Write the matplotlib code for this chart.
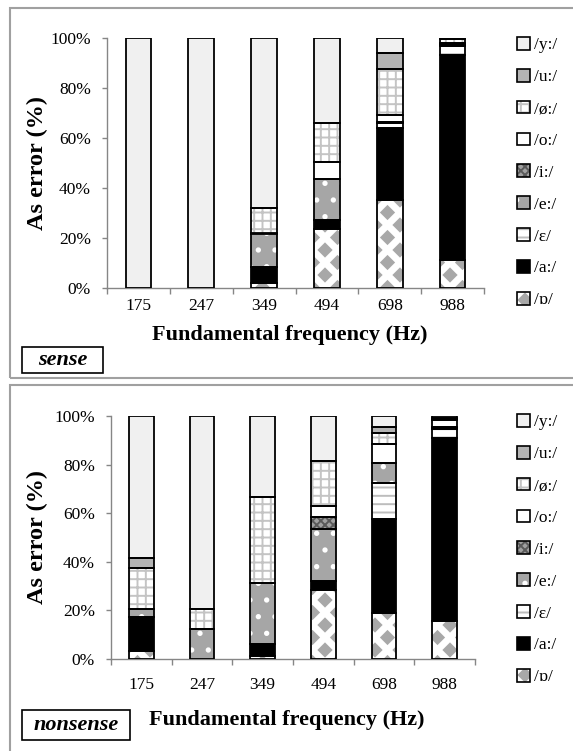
import numpy as np
import matplotlib
matplotlib.use('Agg')
import matplotlib.pyplot as plt
import matplotlib.hatch as mhatch
from matplotlib.path import Path
from matplotlib.patches import Rectangle, Patch
from matplotlib.legend_handler import HandlerTuple

# ---------------- data ----------------
freqs = ['175', '247', '349', '494', '698', '988']
vowels = ['/ɒ/', '/a:/', '/ɛ/', '/e:/', '/i:/', '/o:/', '/ø:/', '/u:/', '/y:/']
ytick_labels = ['0%', '20%', '40%', '60%', '80%', '100%']
ytick_values = [0, 20, 40, 60, 80, 100]

sense_o_open = [0, 0, 2.0, 23.6, 35.1, 11.3]
sense_a = [0, 0, 6.4, 3.5, 29.1, 82.0]
sense_eps = [0, 0, 0, 0, 1.8, 3.5]
sense_e = [0, 0, 13.4, 16.4, 0.3, 0.5]
sense_i = [0, 0, 0, 0, 0.3, 0.5]
sense_o = [0, 0, 0, 7.0, 2.8, 0.3]
sense_oe = [0, 0, 10.4, 15.6, 18.4, 1.5]
sense_u = [0, 0, 0, 0, 6.2, 0]
sense_y = [100, 100, 67.8, 33.9, 6.0, 0.4]

nons_o_open = [3.4, 0, 1.4, 28.5, 18.9, 15.5]
nons_a = [13.7, 0, 4.9, 3.4, 38.7, 75.3]
nons_eps = [0, 0, 0, 0, 14.8, 3.7]
nons_e = [3.6, 12.4, 24.9, 21.5, 8.1, 0.5]
nons_i = [0, 0, 0, 5.1, 0, 0.5]
nons_o = [0, 0, 0, 4.4, 7.8, 2.8]
nons_oe = [16.6, 8.3, 35.3, 18.6, 4.8, 0.5]
nons_u = [4.2, 0, 0, 0, 2.4, 0.5]
nons_y = [58.5, 79.3, 33.5, 18.5, 4.5, 0.7]

sense_series = [sense_o_open, sense_a, sense_eps, sense_e, sense_i,
                sense_o, sense_oe, sense_u, sense_y]
nons_series = [nons_o_open, nons_a, nons_eps, nons_e, nons_i,
               nons_o, nons_oe, nons_u, nons_y]

# ---------------- custom diamond hatch (replaces 'O') ----------------
class Diamonds(mhatch.HatchPatternBase):
    radius = 0.5

    def __init__(self, hatch, density):
        n = hatch.count('O') * 4
        self.n = n
        self.base = np.array([[0, 1], [-1, 0], [0, -1], [1, 0], [0, 1]], float)
        centers = []
        if n:
            for row in range(2 * n + 1):
                yy = row / (2 * n)
                if row % 2 == 0:
                    xs = np.linspace(0, 1, n + 1)
                else:
                    xs = np.linspace(0.5 / n, 1 - 0.5 / n, n)
                for xx in xs:
                    centers.append((xx, yy))
        self.centers = centers
        self.num_vertices = len(centers) * len(self.base)

    def set_vertices_and_codes(self, vertices, codes):
        r = self.radius / (2 * self.n)
        shape = self.base * r
        k = len(self.base)
        for j, (cx, cy) in enumerate(self.centers):
            vertices[j * k:(j + 1) * k] = shape + [cx, cy]
            codes[j * k] = Path.MOVETO
            codes[j * k + 1:(j + 1) * k - 1] = Path.LINETO
            codes[(j + 1) * k - 1] = Path.CLOSEPOLY

mhatch._hatch_types[mhatch._hatch_types.index(mhatch.LargeCircles)] = Diamonds

# ---------------- styles ----------------
styles = [
    dict(face='white', hatch='O', hc='#a8a8a8'),     # ɒ
    dict(face='black', hatch=None, hc=None),          # a
    dict(face='white', hatch='--', hc='#bdbdbd'),     # ɛ
    dict(face='#a6a6a6', hatch='.', hc='white'),      # e
    dict(face='#a0a0a0', hatch='xxxx', hc='#5a5a5a'), # i
    dict(face='white', hatch=None, hc=None),          # o
    dict(face='white', hatch='++', hc='#c4c4c4'),     # ø
    dict(face='#b4b4b4', hatch=None, hc=None),        # u
    dict(face='#f0f0f0', hatch=None, hc=None),        # y
]

plt.rcParams['font.family'] = ['Liberation Serif', 'DejaVu Serif']
plt.rcParams['hatch.linewidth'] = 1.4

W, H = 573, 751
fig = plt.figure(figsize=(W / 100, H / 100), dpi=100)

def fx(px):
    return px / W

def fy(py):
    return 1 - py / H

# panel borders
for (x0, y0, x1, y1) in [(10, 8, 590, 378), (10, 385, 590, 770)]:
    fig.patches.append(Rectangle((fx(x0), fy(y1)), fx(x1) - fx(x0), fy(y0) - fy(y1),
                                 transform=fig.transFigure, fill=False,
                                 edgecolor='#a0a0a0', linewidth=1.5, zorder=0))

GRAY = '#868686'
BAR_W = 0.41

def draw_panel(rect_px, series, tick_pad, xlabel_y_px, label_text,
               box_px, legend_top_px):
    l, t, r, b = rect_px
    ax = fig.add_axes([fx(l), fy(b), fx(r) - fx(l), fy(t) - fy(b)])
    x = np.arange(len(freqs))
    bottoms = np.zeros(len(freqs))
    for vals, st in zip(series, styles):
        v = np.asarray(vals, dtype=float)
        m = v > 0
        ax.bar(x[m], v[m], BAR_W, bottom=bottoms[m], color=st['face'],
               linewidth=0, zorder=2)
        if st['hatch']:
            ax.bar(x[m], v[m], BAR_W, bottom=bottoms[m], facecolor='none',
                   edgecolor=st['hc'], hatch=st['hatch'], linewidth=0, zorder=3)
        ax.bar(x[m], v[m], BAR_W, bottom=bottoms[m], fill=False,
               edgecolor='black', linewidth=1.3, zorder=4)
        bottoms += v
    ax.set_xlim(-0.5, len(freqs) - 0.5)
    ax.set_ylim(0, 100)
    ax.set_xticks(np.arange(-0.5, len(freqs), 1.0))
    ax.set_xticklabels([])
    ax.set_xticks(x, labels=freqs, minor=True)
    ax.tick_params(axis='x', which='major', length=4, color=GRAY, width=1)
    ax.tick_params(axis='x', which='minor', length=0, pad=tick_pad, labelsize=12.5)
    ax.set_yticks(ytick_values, labels=ytick_labels)
    ax.tick_params(axis='y', length=3.5, color=GRAY, width=1, labelsize=12.5, pad=8)
    for s in ['top', 'right']:
        ax.spines[s].set_visible(False)
    for s in ['left', 'bottom']:
        ax.spines[s].set_color(GRAY)
        ax.spines[s].set_linewidth(1)
    ax.set_ylabel('As error (%)', fontsize=17.5, fontweight='bold')
    ax.yaxis.set_label_coords((48 - l) / (r - l), 0.5)
    fig.text(fx((l + r) / 2 - 6), fy(xlabel_y_px), 'Fundamental frequency (Hz)',
             ha='center', va='center', fontsize=16, fontweight='bold')
    bx0, by0, bx1, by1 = box_px
    fig.patches.append(Rectangle((fx(bx0), fy(by1)), fx(bx1) - fx(bx0), fy(by0) - fy(by1),
                                 transform=fig.transFigure, fill=False,
                                 edgecolor='black', linewidth=1.2))
    fig.text(fx((bx0 + bx1) / 2), fy((by0 + by1) / 2), label_text,
             ha='center', va='center', fontsize=16, fontweight='bold',
             fontstyle='italic')
    # legend (reverse order)
    handles = []
    for st in styles[::-1]:
        parts = [Patch(facecolor=st['face'], linewidth=0)]
        if st['hatch']:
            parts.append(Patch(facecolor='none', edgecolor=st['hc'],
                               hatch=st['hatch'], linewidth=0))
        parts.append(Patch(fill=False, edgecolor='black', linewidth=1.2))
        handles.append(tuple(parts))
    fig.legend(handles, vowels[::-1], loc='upper left',
               bbox_to_anchor=(fx(517), fy(legend_top_px)),
               bbox_transform=fig.transFigure, frameon=False,
               fontsize=12.5, handlelength=0.75, handleheight=0.75,
               handletextpad=0.25, labelspacing=0.89, borderpad=0,
               borderaxespad=0,
               handler_map={tuple: HandlerTuple(ndivide=1, pad=0)})
    return ax

draw_panel((107, 38, 484, 288), sense_series, 7, 335, 'sense',
           (22, 347, 103, 373), 37)
draw_panel((111, 416, 475, 659), nons_series, 13, 720, 'nonsense',
           (22, 710, 130, 740), 414)

fig.savefig('out.png', dpi=100)
